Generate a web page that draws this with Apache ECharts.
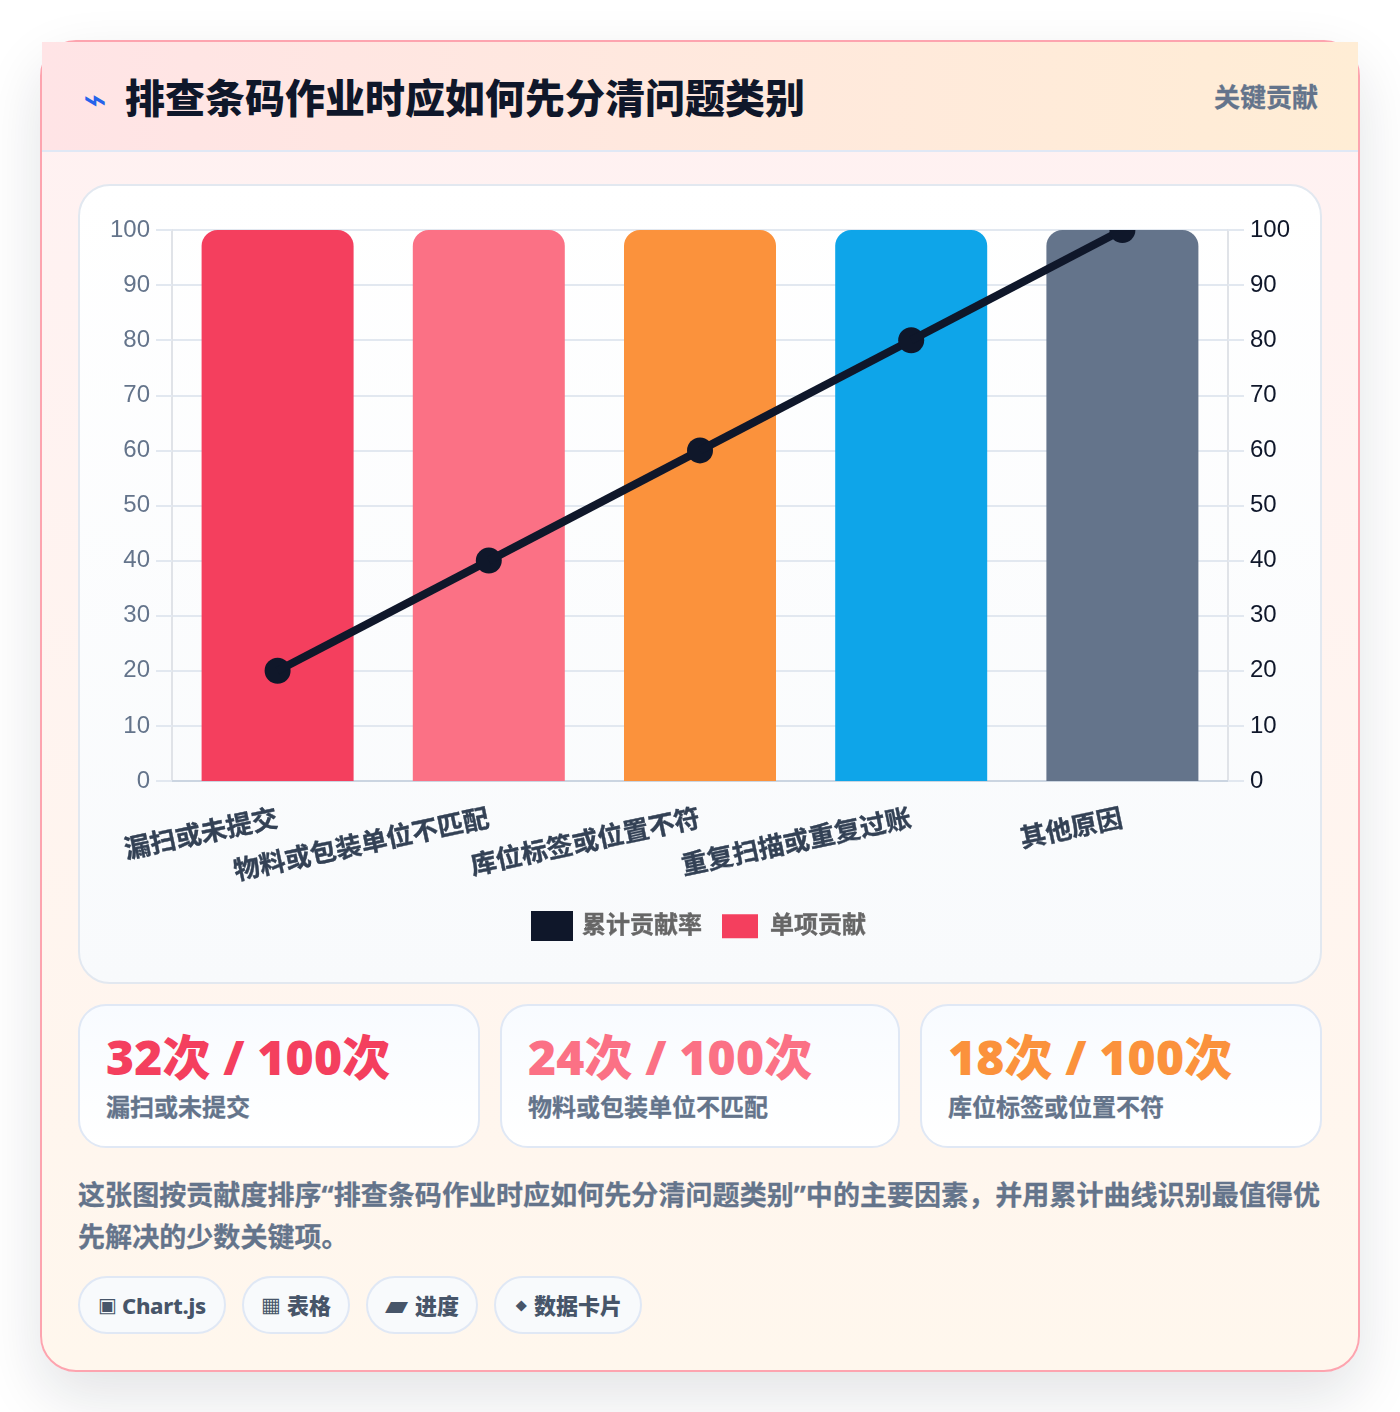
<!DOCTYPE html>
<html lang="zh-CN">
<head>
<meta charset="utf-8">
<title>排查条码作业时应如何先分清问题类别</title>
<script src="https://cdn.jsdelivr.net/npm/echarts@6/dist/echarts.min.js"></script>
<style>
  * { box-sizing: border-box; margin: 0; padding: 0; }
  html, body { width: 1400px; height: 1412px; overflow: hidden; background: #fff; }
  body { position: relative; font-family: "Open Sans", "Noto Sans CJK SC", sans-serif; }
  .card {
    position: absolute; left: 40px; top: 40px; width: 1320px; height: 1332px;
    border: 2px solid #fda4af; border-radius: 36px;
    background: linear-gradient(180deg, #fff1f2 0%, #fff7ed 100%);
    box-shadow: 0 24px 60px rgba(15, 23, 42, .12);
  }
  .head {
    position: absolute; left: 0; top: 0; width: 1316px; height: 110px;
    background: linear-gradient(90deg, #ffe4e6 0%, #ffedd5 100%);
    border-bottom: 2px solid #e0e8f5;
  }
  .bolt { position: absolute; left: 41px; top: 26px; font-size: 40px; line-height: 60px; color: #2563eb; font-weight: 400; }
  h1 { position: absolute; left: 83px; top: 26px; font-size: 40px; line-height: 60px; font-weight: 800; color: #0f172a; white-space: nowrap; }
  .tag { position: absolute; right: 40px; top: 36px; font-size: 26px; line-height: 38px; font-weight: 700; color: #64748b; -webkit-text-stroke: .3px #64748b; }
  .panel {
    position: absolute; left: 36px; top: 142px; width: 1244px; height: 800px;
    border: 2px solid #e2e8f0; border-radius: 32px;
    background: linear-gradient(180deg, #fff 0%, #f8fafc 100%);
  }
  #chart { width: 1240px; height: 796px; }
  .stat {
    position: absolute; top: 962px; height: 144px;
    border: 2px solid #e0e8f5; border-radius: 28px;
    background: linear-gradient(180deg, #f8fbff 0%, #fff 100%);
    padding: 18px 26px;
  }
  .stat b { display: block; font-family: "Noto Sans", "Noto Sans CJK SC", sans-serif; font-size: 48px; line-height: 66px; font-weight: 900; letter-spacing: .15px; white-space: nowrap; }
  .stat span { display: block; font-size: 24px; line-height: 34px; font-weight: 700; color: #64748b; white-space: nowrap; -webkit-text-stroke: .3px #64748b; }
  .desc { position: absolute; left: 36px; top: 1132px; width: 1244px; font-size: 27px; line-height: 42px; font-weight: 700; color: #64748b; letter-spacing: .065px; -webkit-text-stroke: .3px #64748b; }
  .chip {
    position: absolute; top: 1234px; height: 58px; line-height: 54px; white-space: nowrap;
    display: flex; align-items: center;
    border: 2px solid #e0e8f5; border-radius: 29px; background: #f8fafc;
    font-size: 22px; font-weight: 800; color: #475569;
  }
  .chip i { position: absolute; font-style: normal; font-family: "DejaVu Sans", sans-serif; font-weight: 700; line-height: 54px; }
  .chip em { position: absolute; font-style: normal; }
</style>
</head>
<body>
<div class="card">
  <div class="head">
    <span class="bolt">⌁</span>
    <h1>排查条码作业时应如何先分清问题类别</h1>
    <span class="tag">关键贡献</span>
  </div>
  <div class="panel"><div id="chart"></div></div>
  <div id="stats"></div>
  <p class="desc">这张图按贡献度排序“排查条码作业时应如何先分清问题类别”中的主要因素，并用累计曲线识别最值得优先解决的少数关键项。</p>
  <span class="chip" style="left:36px;width:148px"><i style="left:18px;font-size:20px">▣</i><em style="left:42px;font-family:'Noto Sans';letter-spacing:-.3px">Chart.js</em></span>
  <span class="chip" style="left:200px;width:108px"><i style="left:17px;font-size:21px">▦</i><em style="left:43px">表格</em></span>
  <span class="chip" style="left:324px;width:112px"><i style="left:17px;font-size:30px">▰</i><em style="left:47px">进度</em></span>
  <span class="chip" style="left:452px;width:148px"><i style="left:20px;font-size:15px">⬥</i><em style="left:38px">数据卡片</em></span>
</div>
<script>
const categories = ['漏扫或未提交', '物料或包装单位不匹配', '库位标签或位置不符', '重复扫描或重复过账', '其他原因'];
const singleValues = [100, 100, 100, 100, 100];
const cumulativeValues = [20, 40, 60, 80, 100];
const barColors = ['#f43f5e', '#fb7185', '#fb923c', '#0ea5e9', '#64748b'];
const yTicks = [0, 10, 20, 30, 40, 50, 60, 70, 80, 90, 100];
const statTexts = ['32次 / 100次', '24次 / 100次', '18次 / 100次'];
const statLabels = ['漏扫或未提交', '物料或包装单位不匹配', '库位标签或位置不符'];
const statColors = ['#f43f5e', '#fb7185', '#fb923c'];
const statBoxes = [[36, 402], [458, 400], [878, 402]];

const font = '"Open Sans", "Noto Sans CJK SC", sans-serif';
const axisFont = '"Liberation Sans", Arial, sans-serif';

document.getElementById('stats').innerHTML = statTexts.map((t, i) =>
  `<div class="stat" style="left:${statBoxes[i][0]}px;width:${statBoxes[i][1]}px">
     <b style="color:${statColors[i]}">${t}</b><span>${statLabels[i]}</span>
   </div>`).join('');

function valueAxis(position, labelColor, showSplit) {
  return {
    type: 'value',
    position,
    min: yTicks[0],
    max: yTicks[yTicks.length - 1],
    interval: yTicks[1] - yTicks[0],
    axisLine: { show: true, lineStyle: { color: '#e0e3e8', width: 2 } },
    axisTick: { show: true, length: 16, lineStyle: { color: '#e2e8f0', width: 2 } },
    axisLabel: { color: labelColor, fontFamily: axisFont, fontSize: 24, margin: 22 },
    splitLine: { show: showSplit, lineStyle: { color: '#e2e8f0', width: 2 } }
  };
}

const chart = echarts.init(document.getElementById('chart'), null, { renderer: 'canvas' });
chart.setOption({
  animation: false,
  backgroundColor: 'transparent',
  grid: { left: 92, right: 92, top: 44, bottom: 201 },
  legend: [
    {
      data: [{ name: '累计贡献率', icon: 'rect', itemStyle: { color: '#0f172a' } }],
      left: 446, top: 720, itemWidth: 42, itemHeight: 30, selectedMode: false,
      textStyle: { color: '#666', fontFamily: font, fontSize: 24, fontWeight: 700, padding: [0, 0, 0, 4], textBorderColor: '#666', textBorderWidth: .4 }
    },
    {
      data: [{ name: '单项贡献', icon: 'rect', itemStyle: { color: '#f43f5e' } }],
      left: 637, top: 723, itemWidth: 36, itemHeight: 24, selectedMode: false,
      textStyle: { color: '#666', fontFamily: font, fontSize: 24, fontWeight: 700, padding: [0, 0, 0, 7], textBorderColor: '#666', textBorderWidth: .4 }
    }
  ],
  xAxis: {
    type: 'category',
    data: categories,
    axisLine: { lineStyle: { color: '#cbd5e1', width: 2 } },
    axisTick: { show: false },
    axisLabel: {
      interval: 0, rotate: 12, margin: 38, color: '#334155',
      fontFamily: font, fontSize: 26, fontWeight: 700,
      textBorderColor: '#334155', textBorderWidth: .4
    }
  },
  yAxis: [valueAxis('left', '#64748b', true), valueAxis('right', '#0f172a', false)],
  series: [
    {
      name: '单项贡献',
      type: 'bar',
      barWidth: 152,
      data: singleValues.map((v, i) => ({ value: v, itemStyle: { color: barColors[i] } })),
      itemStyle: { color: barColors[0], borderRadius: [16, 16, 0, 0] },
      z: 2
    },
    {
      // custom so line and markers get cut at the plot edge like the last point
      name: '累计贡献率',
      type: 'custom',
      yAxisIndex: 1,
      clip: true,
      data: cumulativeValues.map((v, i) => [i, v]),
      encode: { x: 0, y: 1 },
      itemStyle: { color: '#0f172a' },
      renderItem(params, api) {
        const i = api.value(0);
        const p = api.coord([i, api.value(1)]);
        const children = [{ type: 'circle', shape: { cx: p[0], cy: p[1], r: 13 }, style: { fill: '#0f172a' } }];
        if (i > 0) {
          const q = api.coord([i - 1, cumulativeValues[i - 1]]);
          children.unshift({
            type: 'line',
            shape: { x1: q[0], y1: q[1], x2: p[0], y2: p[1] },
            style: { stroke: '#0f172a', lineWidth: 8 }
          });
        }
        return { type: 'group', children };
      },
      z: 4
    }
  ]
});
</script>
</body>
</html>
